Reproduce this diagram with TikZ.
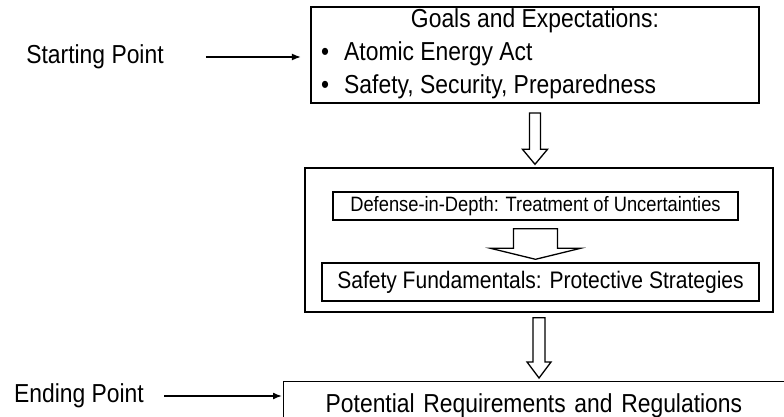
\documentclass[tikz,border=0pt]{standalone}
\usepackage{fontspec}
\setmainfont{Liberation Sans}[FakeStretch=0.88]
\usetikzlibrary{arrows.meta,calc}

% hollow block arrow: from, to, half shaft, half head, head length, top gap
\newcommand{\blockarrow}[6]{%
  \coordinate (ba top) at ($(#1.south)+(0,#6)$);
  \coordinate (ba tip) at ($(#1.south |- #2.north)+(0,-3)$);
  \draw[hollow] ($(ba top)+(-#3,0)$) -- ($(ba tip)+(-#3,-#5)$)
    -- ($(ba tip)+(-#4,-#5)$) -- (ba tip) -- ($(ba tip)+(#4,-#5)$)
    -- ($(ba tip)+(#3,-#5)$) -- ($(ba top)+(#3,0)$) -- cycle;}

\begin{document}
\begin{tikzpicture}[x=1pt,y=-1pt,
                    box/.style={draw,line width=1.4pt,inner sep=0pt},
                    txt/.style={inner sep=0pt,font=\fontsize{26}{30}\selectfont},
                    pointer/.style={-{Latex[length=9pt,width=7pt]},line width=1.5pt},
                    hollow/.style={draw,line width=1.3pt,fill=white}]

  \useasboundingbox (0,0) rectangle (784,417);
  \clip (0,0) rectangle (784,417);

  % goals
  \node[box,line width=2.2pt,minimum width=448pt,minimum height=96pt] (goals) at (535,55) {};
  \node[txt] (title) at (535,21) {Goals and Expectations:};
  \node[txt,anchor=west] (act) at (321,54) {\textbullet\hspace{15pt}Atomic Energy Act};
  \node[txt,anchor=west] (ssp) at (321,87) {\textbullet\hspace{15pt}Safety, Security, Preparedness};

  % middle block
  \node[box,minimum width=468pt,minimum height=144pt] (outer) at (539,240) {};
  \node[box,minimum width=405pt,minimum height=28pt,
        font=\fontsize{20.8}{24}\selectfont] (dind) at (535.5,206)
        {Defense-in-Depth: Treatment of Uncertainties};
  \node[box,minimum width=437pt,minimum height=38pt,
        font=\fontsize{23.9}{28}\selectfont] (safefund) at (540.5,282)
        {Safety Fundamentals: Protective Strategies};

  % end
  \node[box,txt,anchor=north west,inner xsep=42pt,inner ysep=12pt,
        text width=470pt,align=left] (regs) at (283,381)
        {Potential Requirements and Regulations};

  \node[txt] (start) at (95,57) {Starting Point};
  \node[txt] (ending) at (79,396) {Ending Point};

  \draw[pointer,shorten <=42pt,shorten >=9pt] (start.east) -- (start.east -| goals.west);
  \draw[pointer,shorten <=20pt,shorten >=1pt] (ending.east) -- (ending.east -| regs.west);

  \blockarrow{goals}{outer}{5.5}{12.5}{15}{9}
  \blockarrow{dind}{safefund}{22}{45}{11}{8}
  \blockarrow{outer}{regs}{6}{12}{16}{5}
\end{tikzpicture}
\end{document}
